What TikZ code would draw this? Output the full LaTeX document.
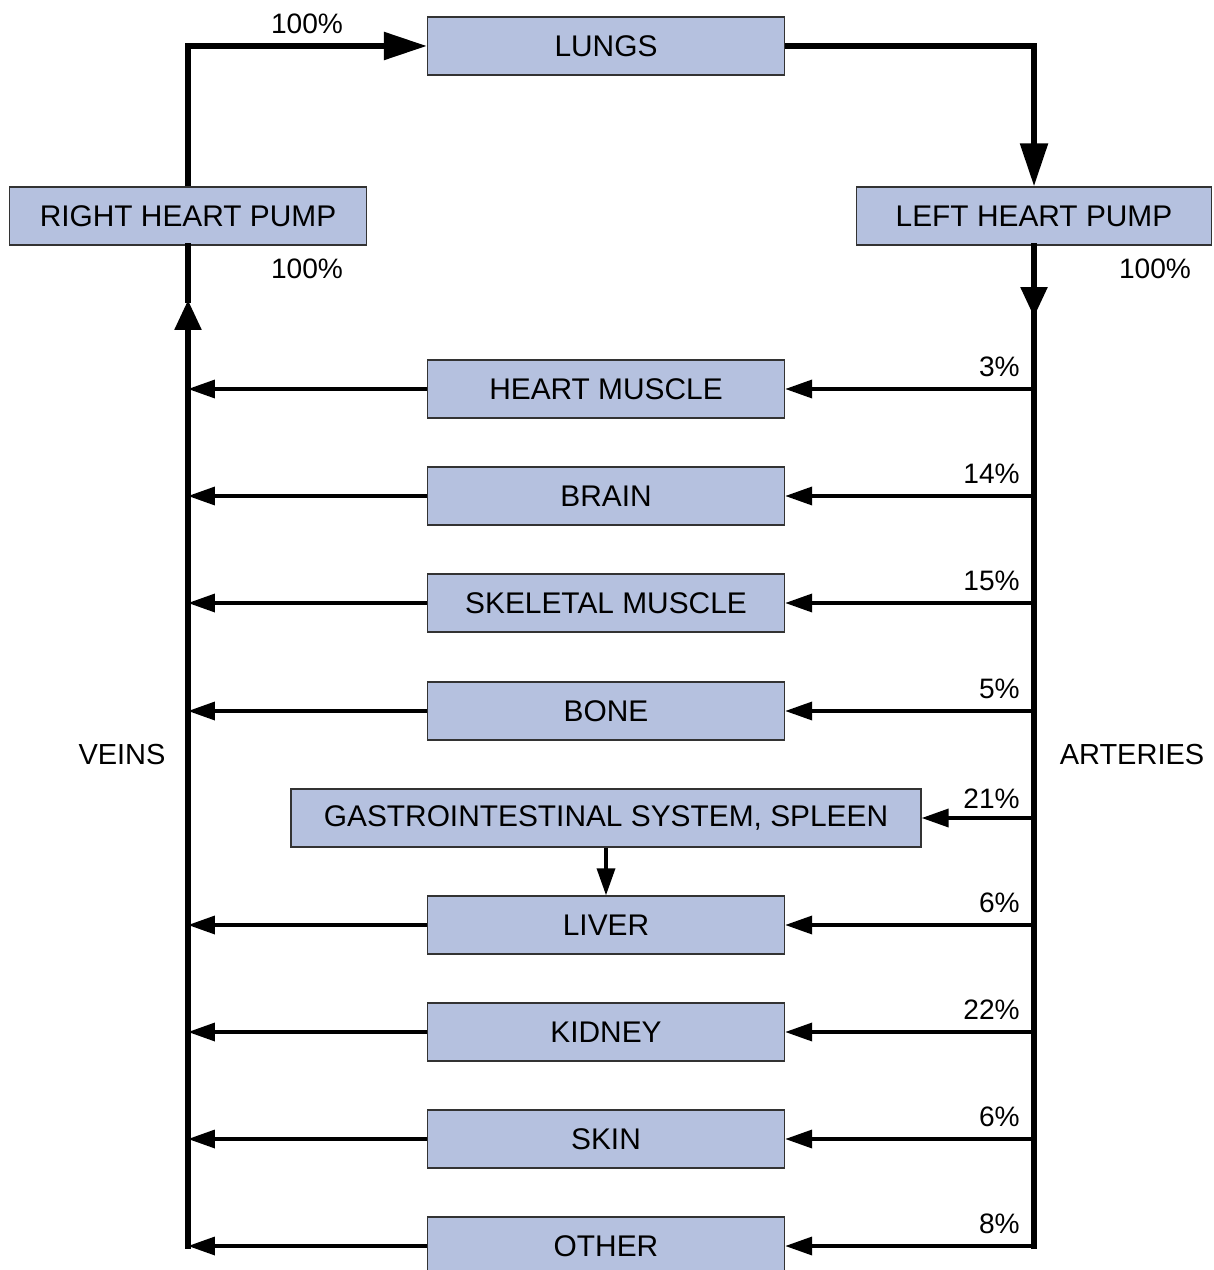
\documentclass[tikz,border=0pt]{standalone}
\usepackage{fontspec}
\setmainfont{Liberation Sans}
\usetikzlibrary{arrows.meta}
\definecolor{organblue}{RGB}{181,193,223}
\tikzset{
  organ/.style={draw=black!80, line width=0.8pt, fill=organblue, minimum width=7.14cm,
    minimum height=1.16cm, inner sep=0pt, font=\fontsize{17}{20}\selectfont},
  main/.style={line width=3.2pt},
  bigtip/.style={-{Triangle[length=0.86cm,width=0.54cm]}},
  midtip/.style={-{Triangle[length=0.6cm,width=0.52cm]}},
  branch/.style={line width=2pt, -{Triangle[length=0.54cm,width=0.36cm]}},
  pct/.style={font=\fontsize{16}{19}\selectfont, inner sep=0pt},
  side/.style={font=\fontsize{16.5}{20}\selectfont, inner sep=0pt}
}
\begin{document}
\begin{tikzpicture}[x=0.02cm,y=-0.02cm]
  \useasboundingbox (0,0) rectangle (1213,1270);
  \node[organ] (lungs) at (606,46) {LUNGS};
  \node[organ] (rhp) at (188,216) {RIGHT HEART PUMP};
  \node[organ, minimum width=7.1cm] (lhp) at (1034,216) {LEFT HEART PUMP};
  \node[organ] (heart) at (606,389) {HEART MUSCLE};
  \node[organ] (brain) at (606,496) {BRAIN};
  \node[organ] (skeletal) at (606,603) {SKELETAL MUSCLE};
  \node[organ] (bone) at (606,711) {BONE};
  \node[organ, minimum width=12.6cm] (gi) at (606,818) {GASTROINTESTINAL SYSTEM, SPLEEN};
  \node[organ] (liver) at (606,925) {LIVER};
  \node[organ] (kidney) at (606,1032) {KIDNEY};
  \node[organ] (skin) at (606,1139) {SKIN};
  \node[organ] (other) at (606,1246) {OTHER};
  \coordinate (atip) at (1034,317);
  \coordinate (vtip) at (188,300);

  \draw[main, bigtip] (rhp.north) -- (rhp.north |- lungs.west) -- (lungs.west);
  \draw[main, bigtip] (lungs.east) -- (lungs.east -| lhp.north) -- (lhp.north);
  \draw[main, line cap=rect] (lhp.south) -- (other.east -| lhp.south);
  \draw[main, midtip] (lhp.south) -- (atip);
  \draw[main, line cap=rect] (vtip) -- (rhp.south);
  \draw[main, midtip, line cap=rect] (other.west -| rhp.south) -- (vtip);

  \draw[branch] (heart.east -| lhp.south) -- (heart.east);
  \draw[branch] (brain.east -| lhp.south) -- (brain.east);
  \draw[branch] (skeletal.east -| lhp.south) -- (skeletal.east);
  \draw[branch] (bone.east -| lhp.south) -- (bone.east);
  \draw[branch] (gi.east -| lhp.south) -- (gi.east);
  \draw[branch] (liver.east -| lhp.south) -- (liver.east);
  \draw[branch] (kidney.east -| lhp.south) -- (kidney.east);
  \draw[branch] (skin.east -| lhp.south) -- (skin.east);
  \draw[branch] (other.east -| lhp.south) -- (other.east);

  \draw[branch] (heart.west) -- (heart.west -| rhp.south);
  \draw[branch] (brain.west) -- (brain.west -| rhp.south);
  \draw[branch] (skeletal.west) -- (skeletal.west -| rhp.south);
  \draw[branch] (bone.west) -- (bone.west -| rhp.south);
  \draw[branch] (liver.west) -- (liver.west -| rhp.south);
  \draw[branch] (kidney.west) -- (kidney.west -| rhp.south);
  \draw[branch] (skin.west) -- (skin.west -| rhp.south);
  \draw[branch] (other.west) -- (other.west -| rhp.south);
  \draw[branch] (gi.south) -- (liver.north);

  \node[pct] (plungs) at (307,24) {100\%};
  \node[pct] (prhp) at (307,269) {100\%};
  \node[pct] (plhp) at (1155,269) {100\%};
  \node[pct, anchor=east] (pheart) at (1020,367) {3\%};
  \node[pct, anchor=east] (pbrain) at (1020,474) {14\%};
  \node[pct, anchor=east] (pskeletal) at (1020,581) {15\%};
  \node[pct, anchor=east] (pbone) at (1020,689) {5\%};
  \node[pct, anchor=east] (pgi) at (1020,799) {21\%};
  \node[pct, anchor=east] (pliver) at (1020,903) {6\%};
  \node[pct, anchor=east] (pkidney) at (1020,1010) {22\%};
  \node[pct, anchor=east] (pskin) at (1020,1117) {6\%};
  \node[pct, anchor=east] (pother) at (1020,1224) {8\%};
  \node[side] (veins) at (122,755) {VEINS};
  \node[side] (arteries) at (1132,755) {ARTERIES};
\end{tikzpicture}
\end{document}
